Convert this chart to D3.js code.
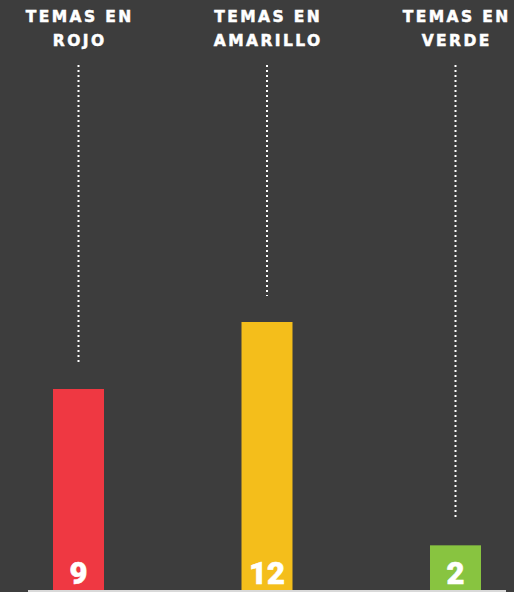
<!DOCTYPE html>
<html>
<head>
<meta charset="utf-8">
<script src="https://cdn.jsdelivr.net/npm/d3@7"></script>
<style>
  html, body { margin: 0; padding: 0; background: #3d3d3d; }
  svg { display: block; }
  .cat { font-family: "DejaVu Sans", sans-serif; font-weight: bold; font-size: 15.5px; letter-spacing: 2.4px; fill: #fff; stroke: #fff; stroke-width: 0.5px; }
  .val { font-family: Roboto, "DejaVu Sans", sans-serif; font-weight: 900; font-size: 31px; fill: #fff; stroke: #fff; stroke-width: 0.6px; }
</style>
</head>
<body>
<svg></svg>
<script>
var width = 514, height = 592;

// data
var categories = ["rojo", "amarillo", "verde"];
var labelLine1 = ["TEMAS EN", "TEMAS EN", "TEMAS EN"];
var labelLine2 = ["ROJO", "AMARILLO", "VERDE"];
var values = [9, 12, 2];
var colors = ["#ef3842", "#f4be1b", "#88c440"];

var svg = d3.select("svg")
    .attr("width", width)
    .attr("height", height);

svg.append("rect")
    .attr("width", width)
    .attr("height", height)
    .attr("fill", "#3d3d3d");

var x = d3.scalePoint()
    .domain(categories)
    .range([78.5, 455.5]);

var y = d3.scaleLinear()
    .domain([0, 12])
    .range([590, 322]);

var barW = 51;

var data = categories.map(function(c, i) {
  return {cat: c, l1: labelLine1[i], l2: labelLine2[i], v: values[i], color: colors[i]};
});

// dotted guide lines
svg.selectAll(".guide")
    .data(data)
  .enter().append("line")
    .attr("class", "guide")
    .attr("x1", function(d) { return x(d.cat); })
    .attr("x2", function(d) { return x(d.cat); })
    .attr("y1", 65)
    .attr("y2", function(d) { return y(d.v) - 26; })
    .attr("stroke", "#fff")
    .attr("stroke-width", 2)
    .attr("stroke-dasharray", "2,3");

// bars
svg.selectAll(".bar")
    .data(data)
  .enter().append("rect")
    .attr("class", "bar")
    .attr("x", function(d) { return x(d.cat) - barW / 2; })
    .attr("y", function(d) { return y(d.v); })
    .attr("width", barW)
    .attr("height", function(d) { return y(0) - y(d.v); })
    .attr("fill", function(d) { return d.color; });

// value labels
svg.selectAll(".val")
    .data(data)
  .enter().append("text")
    .attr("class", "val")
    .attr("x", function(d) { return x(d.cat); })
    .attr("y", 584)
    .attr("text-anchor", "middle")
    .text(function(d) { return d.v; });

// baseline
svg.append("line")
    .attr("x1", 28)
    .attr("x2", 506)
    .attr("y1", y(0) + 1)
    .attr("y2", y(0) + 1)
    .attr("stroke", "#d9d9d9")
    .attr("stroke-width", 2);

// category titles
var titles = svg.selectAll(".cat")
    .data(data)
  .enter().append("text")
    .attr("class", "cat")
    .attr("text-anchor", "middle");

titles.append("tspan")
    .attr("x", function(d) { return x(d.cat) + 1.2; })
    .attr("y", 22)
    .text(function(d) { return d.l1; });

titles.append("tspan")
    .attr("x", function(d) { return x(d.cat) + 1.2; })
    .attr("y", 46)
    .text(function(d) { return d.l2; });
</script>
</body>
</html>
